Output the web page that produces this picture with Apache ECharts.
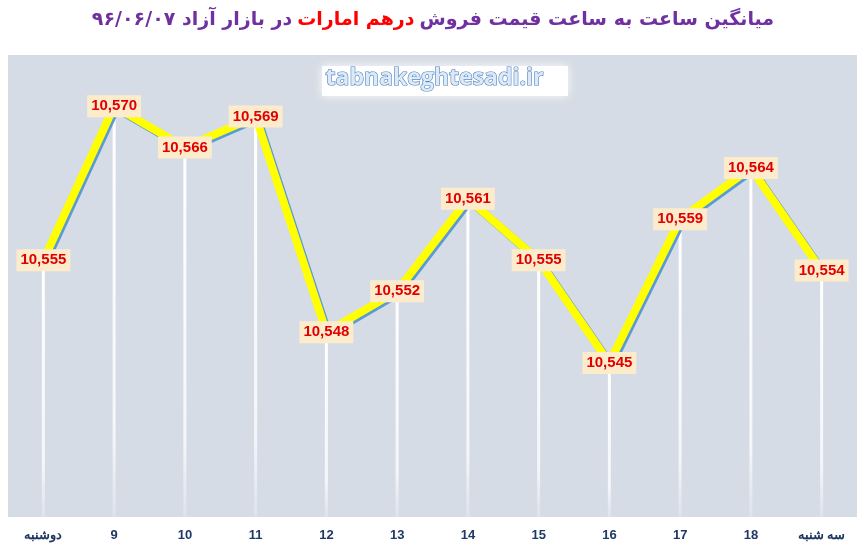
<!DOCTYPE html>
<html><head><meta charset="utf-8">
<script src="https://cdn.jsdelivr.net/npm/echarts@6/dist/echarts.min.js"></script>
<style>html,body{margin:0;padding:0;background:#fff}#c{width:866px;height:551px}</style>
</head><body><div id="c"></div>
<script>
const categories = ['دوشنبه','9','10','11','12','13','14','15','16','17','18','سه شنبه'];
const prices = [10555,10570,10566,10569,10548,10552,10561,10555,10545,10559,10564,10554];
const titleParts = ['در بازار آزاد ۹۶/۰۶/۰۷', 'درهم امارات', 'میانگین ساعت به ساعت قیمت فروش'];
const watermark = 'tabnakeghtesadi.ir';

const chart = echarts.init(document.getElementById('c'), null, {renderer:'canvas'});
chart.setOption({
  backgroundColor:'#ffffff',
  animation:false,
  title:{
    text:'{p|'+titleParts[0]+'} {r|'+titleParts[1]+'} {p|'+titleParts[2]+'}',
    left:'center', top:6,
    textStyle:{
      rich:{
        p:{color:'#7030a0', fontSize:19, fontWeight:'bold', fontFamily:'DejaVu Sans'},
        r:{color:'#ff0000', fontSize:19, fontWeight:'bold', fontFamily:'DejaVu Sans'}
      }
    }
  },
  grid:{left:8,right:9,top:55,bottom:34,show:true,backgroundColor:'#d6dce5',borderWidth:0},
  xAxis:{
    type:'category', data:categories, boundaryGap:true,
    axisLine:{show:false}, axisTick:{show:false}, splitLine:{show:false},
    axisLabel:{color:'#1f3864', fontWeight:'bold', fontSize:13, fontFamily:'Liberation Sans', margin:12, interval:0}
  },
  yAxis:{type:'value', min:10530, max:10575, show:false, splitLine:{show:false}},
  graphic:[
    {type:'rect', left:322, top:66, shape:{width:246,height:30},
     style:{fill:'#ffffff', shadowBlur:10, shadowColor:'rgba(255,255,255,0.9)'}, z:1},
    {type:'text', left:325, top:66, style:{text:watermark, fontSize:23, fontWeight:'bold', fontFamily:'Open Sans',
      fill:'#dce9f7', stroke:'#4f81bd', lineWidth:1.2}, z:2}
  ],
  series:[
    {type:'bar', data:prices, barWidth:3, z:1, silent:true,
     itemStyle:{color:new echarts.graphic.LinearGradient(0,0,0,1,[{offset:0,color:'#ffffff'},{offset:0.8,color:'#f4f6fa'},{offset:1,color:'#dde3ec'}])}},
    {type:'line', data:prices, z:3, symbol:'circle', symbolSize:2,
     itemStyle:{color:'#ffff00'},
     lineStyle:{color:'#ffff00', width:8, shadowColor:'#5b9bd5', shadowOffsetX:2, shadowOffsetY:2, shadowBlur:0, cap:'round', join:'round'},
     label:{show:true, position:'inside', formatter:p=>p.value.toLocaleString('en-US'),
       color:'#e00000', fontWeight:'bold', fontSize:15, fontFamily:'Liberation Sans',
       backgroundColor:'#fdeccc', padding:[4,4,3,4]}}
  ]
});
</script></body></html>
